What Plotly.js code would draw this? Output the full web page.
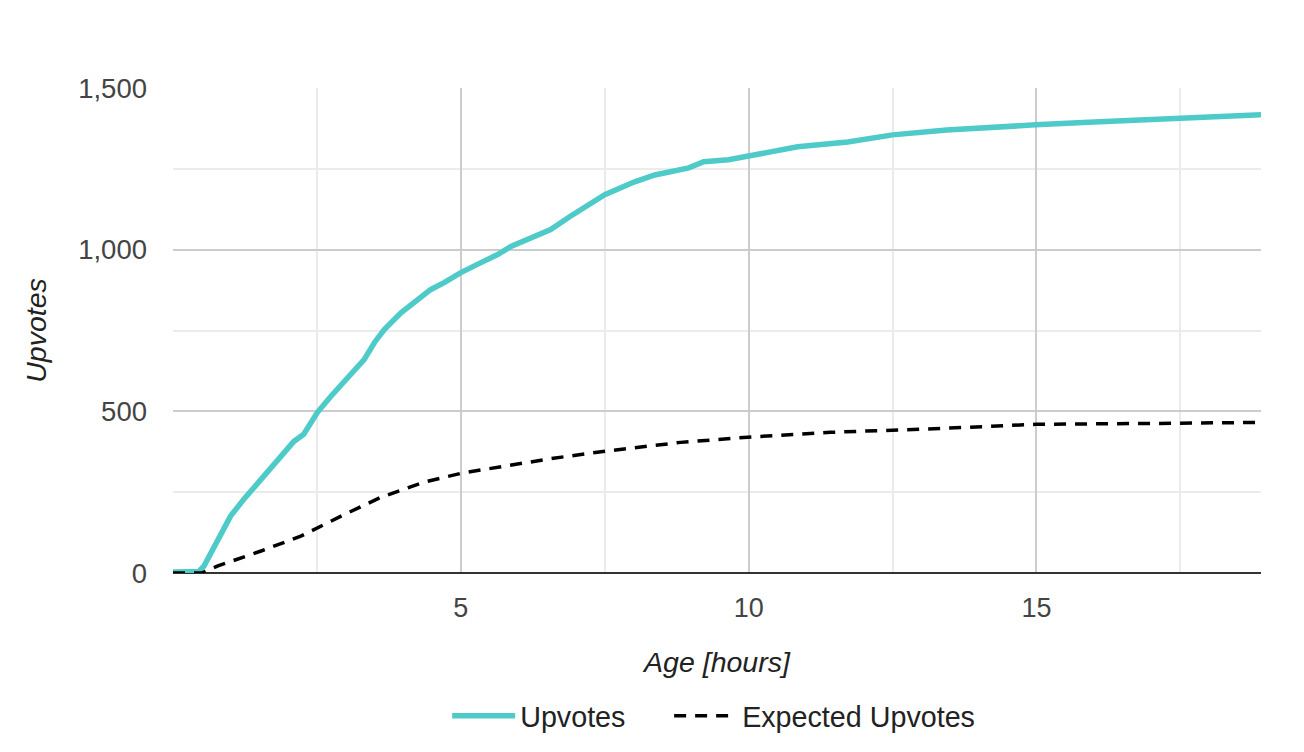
<!DOCTYPE html>
<html>
<head>
<meta charset="utf-8">
<script src="https://cdn.plot.ly/plotly-3.0.1.min.js"></script>
<style>html,body{margin:0;padding:0;background:#fff;}#chart{width:1304px;height:752px;}</style>
</head>
<body>
<div id="chart"></div>
<script>
const upvoteHours = [0, 0.45, 0.54, 0.69, 0.83, 1.0, 1.23, 1.53, 1.82, 2.1, 2.27, 2.51, 2.74, 3.04, 3.32, 3.5, 3.67, 3.96, 4.19, 4.48, 4.71, 5.0, 5.35, 5.64, 5.87, 6.22, 6.56, 6.89, 7.15, 7.5, 8.02, 8.37, 8.96, 9.22, 9.65, 10.0, 10.85, 11.72, 12.5, 13.44, 14.3, 14.98, 16.0, 17.4, 18.9];
const upvoteValues = [3, 5, 22, 74, 120, 176, 228, 290, 346, 407, 429, 497, 546, 608, 660, 713, 753, 805, 839, 877, 898, 929, 960, 985, 1010, 1037, 1062, 1102, 1133, 1170, 1210, 1231, 1253, 1272, 1278, 1290, 1318, 1333, 1355, 1370, 1380, 1386, 1395, 1407, 1417];
const expectedHours = [0, 0.5, 0.78, 1.53, 2.22, 2.92, 3.61, 4.36, 5.02, 5.87, 6.61, 7.52, 8.82, 9.98, 11.42, 13.33, 15.0, 17.4, 18.9];
const expectedValues = [0, 0, 22, 68, 114, 176, 234, 281, 309, 333, 355, 377, 404, 420, 435, 447, 460, 463, 466];
const xTickVals = [5, 10, 15];
const yTickVals = [0, 500, 1000, 1500];
const seriesNames = ["Upvotes", "Expected Upvotes"];

const traces = [
  {x: upvoteHours, y: upvoteValues, name: seriesNames[0], mode: "lines", legend: "legend",
   line: {color: "#4ecbc8", width: 5.5}},
  {x: expectedHours, y: expectedValues, name: seriesNames[1], mode: "lines", legend: "legend2",
   line: {color: "#000000", width: 3.5, dash: "12px,9px"}}
];

const font = "Arial, 'Liberation Sans', sans-serif";
const legendBase = {orientation: "h", y: -0.24, yanchor: "top", xanchor: "left", itemwidth: 63,
                    bgcolor: "rgba(0,0,0,0)", font: {family: font, size: 28.7, color: "#222"}};
const layout = {
  width: 1304, height: 752,
  margin: {l: 173, r: 43, t: 88, b: 178},
  paper_bgcolor: "#fff", plot_bgcolor: "#fff",
  font: {family: font, size: 26, color: "#444"},
  showlegend: true,
  legend: Object.assign({}, legendBase, {x: 0.252}),
  legend2: Object.assign({}, legendBase, {x: 0.456}),
  xaxis: {
    range: [0, 18.9], tickmode: "array", tickvals: xTickVals, ticks: "",
    showgrid: true, gridcolor: "#cccccc", gridwidth: 2,
    minor: {dtick: 2.5, tick0: 0, showgrid: true, gridcolor: "#ebebeb", gridwidth: 2},
    zeroline: false, showline: false, ticklabelstandoff: 16,
    tickfont: {family: font, size: 27, color: "#444"},
    title: {text: "<i>Age [hours]</i>", font: {family: font, size: 28.5, color: "#222"}, standoff: 30}
  },
  yaxis: {
    range: [0, 1500], tickmode: "array", tickvals: yTickVals, tickformat: ",d", ticks: "",
    showgrid: true, gridcolor: "#cccccc", gridwidth: 2,
    minor: {dtick: 250, tick0: 0, showgrid: true, gridcolor: "#ebebeb", gridwidth: 2},
    zeroline: true, zerolinecolor: "#333", zerolinewidth: 2, showline: false,
    ticklabelstandoff: 25,
    tickfont: {family: font, size: 27.5, color: "#444"},
    title: {text: "<i>Upvotes</i>", font: {family: font, size: 28.5, color: "#222"}, standoff: 23}
  }
};
Plotly.newPlot("chart", traces, layout, {displayModeBar: false, staticPlot: true});
</script>
</body>
</html>
